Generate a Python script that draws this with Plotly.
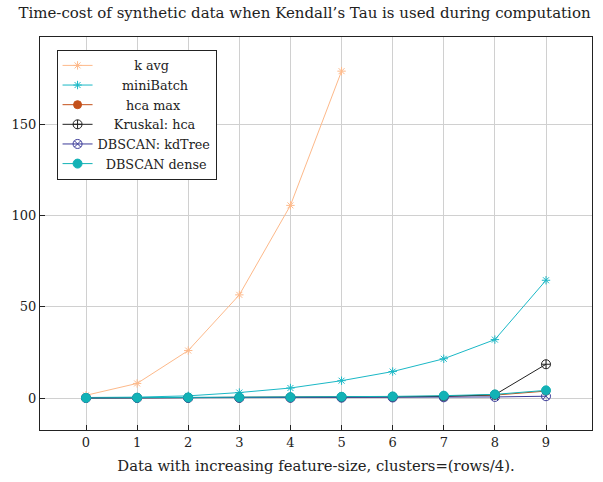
import plotly.graph_objects as go

# Feature-size steps on the x axis
steps = list(range(10))

# Time cost per method (seconds)
k_avg = [1.5, 8.0, 26.0, 56.5, 105.5, 179.0]
mini_batch = [0.3, 0.5, 1.2, 3.0, 5.5, 9.5, 14.5, 21.5, 32.0, 64.5]
hca_max = [0.05, 0.1, 0.15, 0.2, 0.3, 0.45, 0.7, 1.0, 1.6, 3.8]
kruskal_hca = [0.05, 0.1, 0.15, 0.2, 0.3, 0.45, 0.65, 0.9, 1.8, 18.5]
dbscan_kdtree = [0.02, 0.05, 0.08, 0.1, 0.15, 0.2, 0.3, 0.4, 0.6, 1.0]
dbscan_dense = [0.1, 0.2, 0.3, 0.4, 0.5, 0.7, 0.9, 1.3, 2.0, 4.2]

x_ticks = list(range(10))
y_ticks = [0, 50, 100, 150]

# name, values, colour, marker, marker size, leading pad (nbsp) to centre the legend text
series = [
    ("k avg", k_avg, "#fdb98a", "asterisk-open", 7, 9),
    ("miniBatch", mini_batch, "#1ab8c6", "asterisk-open", 7, 6),
    ("hca max", hca_max, "#c4501a", "circle", 8, 7),
    ("Kruskal: hca", kruskal_hca, "#222222", "circle-cross-open", 9, 4),
    ("DBSCAN: kdTree", dbscan_kdtree, "#3b3b98", "circle-x-open", 9, 0),
    ("DBSCAN dense", dbscan_dense, "#12b2b6", "circle", 9, 2),
]

fig = go.Figure()
for name, vals, color, symbol, size, pad in series:
    fig.add_trace(go.Scatter(
        x=steps[:len(vals)], y=vals, name="\u00a0" * pad + name, mode="lines+markers",
        line=dict(color=color, width=1),
        marker=dict(symbol=symbol, size=size, color=color,
                    line=dict(color=color, width=1)),
    ))

font_family = "DejaVu Serif, serif"

fig.update_layout(
    width=603, height=482,
    margin=dict(l=40, r=11, t=37, b=52),
    paper_bgcolor="white", plot_bgcolor="white",
    font=dict(family=font_family, size=13, color="#222222"),
    title=dict(text="Time-cost of synthetic data when Kendall’s Tau is used during computation",
               x=0.505, xanchor="center", y=0.985, yanchor="top",
               font=dict(size=15)),
    legend=dict(x=0.03, y=0.968, xanchor="left", yanchor="top",
                bgcolor="white", bordercolor="#222222", borderwidth=1,
                font=dict(size=12.8), itemwidth=30, tracegroupgap=0),
    showlegend=True,
)

fig.update_xaxes(
    range=[-0.9, 9.9], tickvals=x_ticks, ticktext=[str(t) for t in x_ticks],
    showgrid=True, gridcolor="#d0d0d0", gridwidth=1, zeroline=False,
    showline=True, linecolor="#222222", linewidth=1, mirror=True,
    ticks="inside", ticklen=5, tickcolor="#222222",
    title=dict(text="Data with increasing feature-size, clusters=(rows/4).",
               font=dict(size=14.8), standoff=12),
    tickfont=dict(size=13),
)
fig.update_yaxes(
    range=[-17.5, 197.7], tickvals=y_ticks, ticktext=[str(t) for t in y_ticks],
    showgrid=True, gridcolor="#d0d0d0", gridwidth=1, zeroline=False,
    showline=True, linecolor="#222222", linewidth=1, mirror=True,
    ticks="inside", ticklen=5, tickcolor="#222222",
    tickfont=dict(size=13),
)

fig.write_html("out.html")
